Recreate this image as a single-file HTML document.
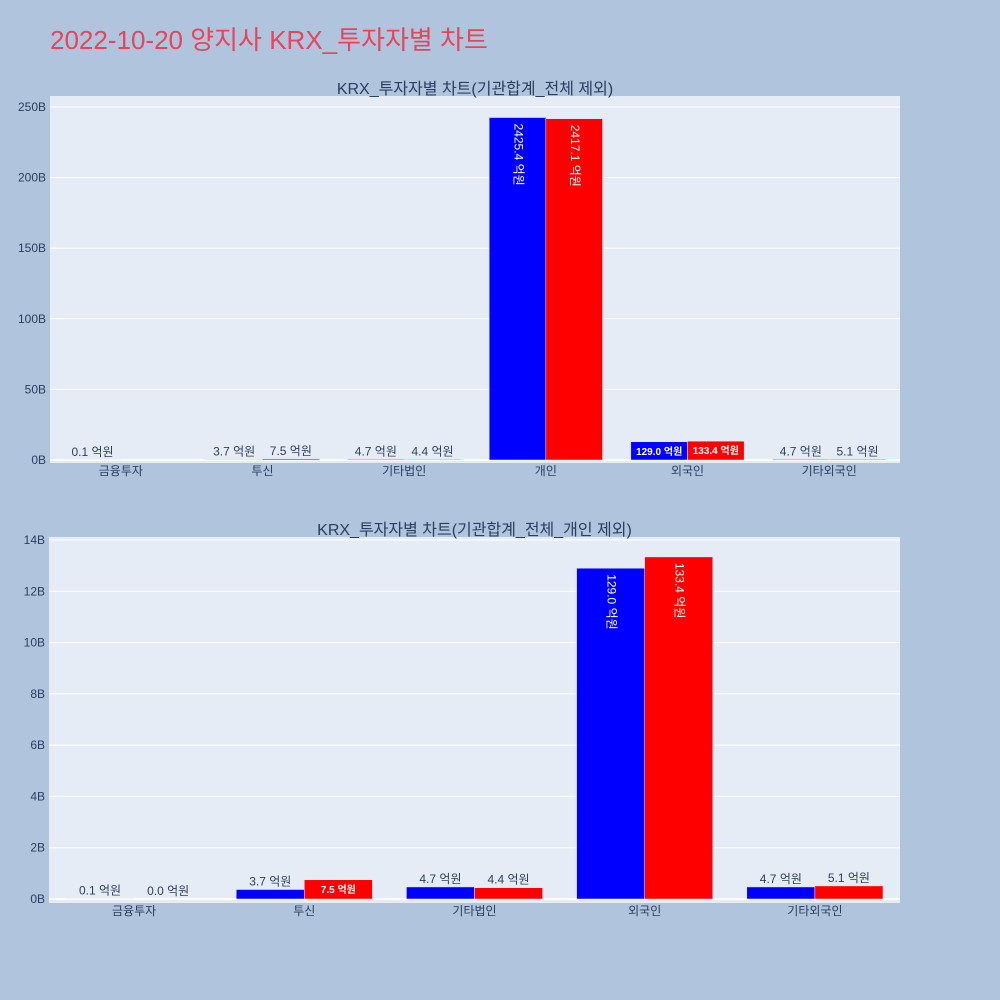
<!DOCTYPE html>
<html><head><meta charset="utf-8"><style>
body{margin:0;background:#b0c4de;}
svg{display:block;font-family:"Liberation Sans","Noto Sans CJK KR",sans-serif;}
</style></head><body>
<svg id="s" width="1000" height="1000">
<rect width="1000" height="1000" fill="#b0c4de"/>
<text x="50" y="49" font-size="26" fill="#e8445a">2022-10-20 양지사 KRX_투자자별 차트</text>
</svg>
<script>
const cats1=["금융투자","투신","기타법인","개인","외국인","기타외국인"];
const blue1=[0.1,3.7,4.7,2425.4,129.0,4.7];
const red1=[0.0,7.5,4.4,2417.1,133.4,5.1];
const ticks1=[0,50,100,150,200,250];
const cats2=["금융투자","투신","기타법인","외국인","기타외국인"];
const blue2=[0.1,3.7,4.7,129.0,4.7];
const red2=[0.0,7.5,4.4,133.4,5.1];
const ticks2=[0,2,4,6,8,10,12,14];
const NS="http://www.w3.org/2000/svg";
const svg=document.getElementById('s');
function mk(t,a,p){const e=document.createElementNS(NS,t);for(const k in a)e.setAttribute(k,a[k]);(p||svg).appendChild(e);return e;}
function chart(o){
  const g=mk('g',{});
  
  
  const bg=mk('rect',{x:o.x0,y:o.top,width:o.x1-o.x0,height:o.bot-o.top,fill:'#e5ecf6'},g);
  
  
  const y=v=>o.zero-(v/o.max)*(o.zero-o.yTop);
  o.ticks.forEach(t=>{
    mk('line',{x1:o.x0,x2:o.x1,y1:y(t),y2:y(t),stroke:'#fff','stroke-width':t==0?2:1},g);
    const tx=mk('text',{x:o.x0-4,y:y(t)+4,'font-size':12,fill:'#2a3f5f','text-anchor':'end'},g);
    tx.textContent=t+'B';
    
    
  });
  const bw=(o.x1-o.x0)/o.cats.length, w=bw*0.4;
  const tt=mk('text',{x:(o.x0+o.x1)/2,y:o.top-2,'font-size':16,fill:'#2a3f5f','text-anchor':'middle'},g);
  tt.textContent=o.title;
  
  
  o.cats.forEach((c,i)=>{
    const cx=o.x0+bw*(i+0.5);
    const lb=mk('text',{x:cx,y:o.bot+12,'font-size':12,fill:'#2a3f5f','text-anchor':'middle'},g);
    lb.textContent=c;
    
    
    [[o.blue[i],'#0000ff',cx-w],[o.red[i],'#ff0000',cx]].forEach(([v,col,bx],si)=>{
      const vb=v/10, yy=y(vb), h=o.zero-yy;
      const r=mk('rect',{x:bx,y:yy,width:w,height:Math.max(h,0),fill:col,stroke:'#e5ecf6','stroke-width':0.5},g);
      
      
      if(!o.show0 && v===0) return;
      const txt=v.toFixed(1)+' 억원';
      let t;
      if(h>60){
        t=mk('text',{x:bx+w/2,y:yy+6,'font-size':12,fill:'#fff',transform:`rotate(90 ${bx+w/2} ${yy+6})`,'dominant-baseline':'middle'},g);
      } else if(h>14){
        t=mk('text',{x:bx+w/2,y:yy+13,'font-size':10,'font-weight':'bold',fill:'#fff','text-anchor':'middle'},g);
      } else {
        t=mk('text',{x:bx+w/2,y:yy-4,'font-size':12,fill:'#2a3f5f','text-anchor':'middle'},g);
      }
      t.textContent=txt;
      
      
    });
  });
}
chart({name:'top-chart',title:'KRX_투자자별 차트(기관합계_전체 제외)',cats:cats1,blue:blue1,red:red1,ticks:ticks1,max:250,x0:50,x1:900,top:96,bot:463,zero:460,yTop:107,show0:false});
chart({name:'bottom-chart',title:'KRX_투자자별 차트(기관합계_전체_개인 제외)',cats:cats2,blue:blue2,red:red2,ticks:ticks2,max:14,x0:49,x1:900,top:537,bot:903,zero:899,yTop:540,show0:true});
</script>
</body></html>
